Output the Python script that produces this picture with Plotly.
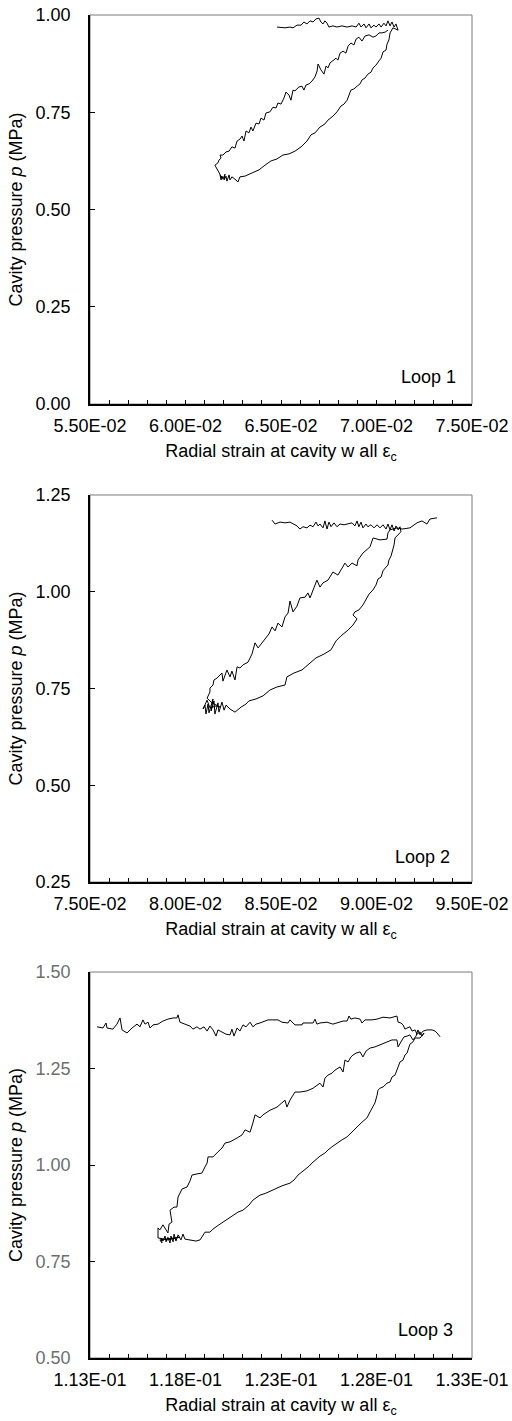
import plotly.graph_objects as go
import numpy as np

# ---------------- data (strain in units of 1E-02, pressure in MPa) ----------------
strain1 = [6.479, 6.521, 6.547, 6.563, 6.584, 6.605, 6.620, 6.636, 6.652, 6.668, 6.683, 6.699, 6.709, 6.720, 6.730,
           6.741, 6.751, 6.772, 6.793, 6.819, 6.846, 6.872, 6.893, 6.908, 6.919, 6.935, 6.945, 6.961, 6.971, 6.987,
           6.997, 7.013, 7.024, 7.039, 7.050, 7.060, 7.071, 7.081, 7.092, 7.102, 7.113, 7.086,
           7.071, 7.065, 7.055, 7.050, 7.034, 7.024, 7.013, 6.997, 6.982, 6.971, 6.955, 6.940, 6.924, 6.914, 6.898,
           6.882, 6.866, 6.856, 6.846, 6.830, 6.814, 6.793, 6.772, 6.746, 6.730, 6.704, 6.678, 6.657, 6.636, 6.605,
           6.573, 6.542, 6.510, 6.479, 6.448, 6.416, 6.385, 6.348, 6.312, 6.285, 6.275, 6.259,
           6.243, 6.233, 6.228, 6.217, 6.212, 6.202, 6.207, 6.196, 6.191, 6.186, 6.181, 6.191, 6.175,
           6.160, 6.154, 6.170, 6.175, 6.186, 6.181, 6.196,
           6.212, 6.228, 6.243, 6.259, 6.270, 6.285, 6.296, 6.306, 6.317, 6.332, 6.343, 6.353, 6.369, 6.385, 6.395,
           6.411, 6.421, 6.442, 6.458, 6.474, 6.484, 6.500, 6.516, 6.526, 6.542, 6.552, 6.563, 6.573, 6.594, 6.610,
           6.620, 6.631, 6.647, 6.662, 6.678, 6.689, 6.694, 6.709, 6.725, 6.736, 6.746, 6.757, 6.772, 6.788, 6.798,
           6.809, 6.825, 6.840, 6.851, 6.866, 6.882, 6.893, 6.908, 6.924, 6.940, 6.961, 6.982, 6.997, 7.013, 7.029,
           7.045, 7.060]
pressure1 = [0.969, 0.967, 0.969, 0.967, 0.974, 0.974, 0.982, 0.977, 0.985, 0.982, 0.990, 0.992, 0.982, 0.977, 0.985,
             0.979, 0.969, 0.972, 0.969, 0.972, 0.969, 0.972, 0.969, 0.979, 0.969, 0.977, 0.967, 0.977, 0.967, 0.974,
             0.969, 0.977, 0.969, 0.979, 0.972, 0.985, 0.972, 0.982, 0.969, 0.977, 0.961, 0.967,
             0.954, 0.936, 0.925, 0.910, 0.905, 0.889, 0.882, 0.871, 0.864, 0.853, 0.848, 0.838, 0.833, 0.823, 0.817,
             0.810, 0.807, 0.794, 0.781, 0.771, 0.766, 0.751, 0.740, 0.730, 0.720, 0.712, 0.697, 0.692, 0.676, 0.661,
             0.650, 0.643, 0.640, 0.630, 0.625, 0.614, 0.602, 0.594, 0.586, 0.584, 0.571, 0.578,
             0.584, 0.576, 0.589, 0.573, 0.586, 0.576, 0.591, 0.578, 0.586, 0.576, 0.589, 0.581, 0.596,
             0.609, 0.614, 0.620, 0.627, 0.632, 0.640, 0.640,
             0.648, 0.650, 0.661, 0.658, 0.676, 0.681, 0.689, 0.676, 0.702, 0.697, 0.712, 0.702, 0.722, 0.720, 0.735,
             0.730, 0.748, 0.751, 0.763, 0.761, 0.774, 0.771, 0.787, 0.802, 0.794, 0.781, 0.807, 0.805, 0.815, 0.817,
             0.807, 0.820, 0.823, 0.830, 0.841, 0.856, 0.874, 0.859, 0.848, 0.869, 0.864, 0.877, 0.882, 0.889, 0.884,
             0.902, 0.907, 0.902, 0.920, 0.928, 0.923, 0.938, 0.943, 0.933, 0.946, 0.949, 0.943, 0.946, 0.954, 0.954,
             0.956, 0.961]

strain2 = [8.453, 8.469, 8.495, 8.521, 8.547, 8.568, 8.584, 8.599, 8.615, 8.636, 8.652, 8.668, 8.683, 8.694, 8.704,
           8.720, 8.730, 8.741, 8.751, 8.762, 8.777, 8.793, 8.809, 8.830, 8.851, 8.872, 8.887, 8.898, 8.908, 8.919,
           8.929, 8.945, 8.955, 8.971, 8.987, 9.003, 9.018, 9.034, 9.050, 9.060, 9.071, 9.081, 9.092, 9.102, 9.113,
           9.123, 9.128,
           9.113, 9.097, 9.092, 9.086, 9.076, 9.065, 9.060, 9.045, 9.034, 9.024, 9.008, 8.997, 8.982, 8.961, 8.945,
           8.929, 8.908, 8.887, 8.877, 8.898, 8.877, 8.851, 8.814, 8.788, 8.762, 8.725, 8.683, 8.647, 8.610, 8.568,
           8.531, 8.521, 8.479, 8.442, 8.406, 8.369, 8.332, 8.317, 8.291, 8.259, 8.233, 8.212,
           8.202, 8.191, 8.175, 8.170, 8.154, 8.149, 8.134, 8.144, 8.123, 8.118, 8.107, 8.102, 8.092, 8.113, 8.128,
           8.160, 8.181, 8.139, 8.113,
           8.128, 8.128, 8.144, 8.149,
           8.165, 8.191, 8.196, 8.217, 8.233, 8.243, 8.259, 8.270, 8.285, 8.301, 8.327, 8.348, 8.364, 8.380, 8.401,
           8.416, 8.437, 8.453, 8.469, 8.484, 8.505, 8.521, 8.537, 8.547, 8.563, 8.584, 8.599, 8.626, 8.641, 8.652,
           8.668, 8.688, 8.704, 8.720, 8.746, 8.772, 8.798, 8.819, 8.835, 8.851, 8.872, 8.898, 8.903, 8.929, 8.950,
           8.966, 8.982, 9.018, 9.055, 9.060, 9.071, 9.107, 9.134, 9.175, 9.212, 9.238, 9.264, 9.280, 9.317]
pressure2 = [1.185, 1.175, 1.180, 1.178, 1.180, 1.175, 1.170, 1.162, 1.168, 1.165, 1.172, 1.168, 1.180, 1.170, 1.175,
             1.165, 1.183, 1.162, 1.180, 1.168, 1.178, 1.168, 1.175, 1.173, 1.175, 1.178, 1.170, 1.183, 1.168, 1.180,
             1.165, 1.175, 1.168, 1.173, 1.165, 1.173, 1.165, 1.173, 1.162, 1.175, 1.160, 1.173, 1.157, 1.170, 1.160,
             1.168, 1.155,
             1.147, 1.139, 1.121, 1.108, 1.092, 1.082, 1.069, 1.061, 1.054, 1.038, 1.033, 1.017, 1.005, 0.994, 0.981,
             0.966, 0.953, 0.948, 0.940, 0.930, 0.914, 0.901, 0.886, 0.873, 0.850, 0.839, 0.829, 0.813, 0.798, 0.790,
             0.780, 0.759, 0.754, 0.746, 0.731, 0.723, 0.718, 0.710, 0.702, 0.689, 0.697, 0.707,
             0.694, 0.715, 0.689, 0.713, 0.684, 0.718, 0.692, 0.723, 0.687, 0.710, 0.684, 0.707, 0.697, 0.720, 0.700,
             0.705, 0.702, 0.713, 0.725,
             0.741, 0.751, 0.759, 0.772,
             0.777, 0.790, 0.769, 0.798, 0.780, 0.795, 0.772, 0.806, 0.803, 0.811, 0.818, 0.839, 0.868, 0.855, 0.868,
             0.875, 0.891, 0.909, 0.899, 0.919, 0.909, 0.935, 0.945, 0.976, 0.948, 0.963, 0.984, 0.986, 0.997, 0.984,
             1.005, 1.030, 1.012, 1.023, 1.030, 1.051, 1.043, 1.061, 1.074, 1.064, 1.074, 1.067, 1.082, 1.100, 1.108,
             1.116, 1.139, 1.134, 1.136, 1.152, 1.160, 1.165, 1.162, 1.165, 1.178, 1.183, 1.175, 1.188, 1.191]

strain3 = [11.337, 11.368, 11.384, 11.389, 11.420, 11.441, 11.457, 11.468, 11.494, 11.520, 11.546, 11.562, 11.577,
           11.588, 11.604, 11.614, 11.630, 11.656, 11.682, 11.708, 11.735, 11.755, 11.761, 11.771, 11.797, 11.824,
           11.839, 11.860, 11.876, 11.897, 11.913, 11.928, 11.944, 11.960, 11.970, 11.991, 12.012, 12.033, 12.043,
           12.054, 12.070, 12.085, 12.101, 12.117, 12.138, 12.153, 12.169, 12.190, 12.211, 12.232, 12.258, 12.284,
           12.305, 12.337, 12.347, 12.373, 12.410, 12.415, 12.441, 12.468, 12.478, 12.488, 12.504, 12.541, 12.572,
           12.598, 12.625, 12.646, 12.656, 12.666, 12.687, 12.714, 12.724, 12.740, 12.776, 12.803, 12.834, 12.871,
           12.892, 12.907, 12.913, 12.928, 12.939, 12.949, 12.960, 12.975, 12.986, 13.002, 13.012, 13.028, 13.038,
           13.049,
           13.028, 13.002, 12.991, 12.975, 12.965, 12.960, 12.949, 12.939, 12.923, 12.913, 12.907, 12.897, 12.881,
           12.871, 12.855, 12.834, 12.818, 12.808, 12.803, 12.792, 12.771, 12.750, 12.724, 12.698, 12.672, 12.646,
           12.619, 12.593, 12.572, 12.546, 12.530, 12.504, 12.478, 12.462, 12.447, 12.420, 12.389, 12.368, 12.347,
           12.305, 12.258, 12.221, 12.190, 12.169, 12.153, 12.132, 12.101, 12.075, 12.049, 12.017, 11.991, 11.975,
           11.944, 11.928, 11.902, 11.886, 11.876, 11.855, 11.824, 11.797,
           11.787, 11.776, 11.761, 11.750, 11.740, 11.735, 11.724, 11.719, 11.708, 11.698, 11.693, 11.682, 11.672,
           11.677, 11.666, 11.745, 11.771, 11.708,
           11.656, 11.656, 11.666, 11.682, 11.693, 11.708, 11.714, 11.729, 11.719, 11.740, 11.755, 11.761, 11.782,
           11.808, 11.824, 11.834, 11.860, 11.886, 11.902, 11.913, 11.918, 11.944, 11.970, 11.991, 12.007, 12.033,
           12.070, 12.096, 12.112, 12.138, 12.153, 12.164, 12.190, 12.206, 12.227, 12.243, 12.279, 12.305, 12.321,
           12.331, 12.347, 12.363, 12.373, 12.399, 12.436, 12.468, 12.494, 12.504, 12.520, 12.530, 12.546, 12.567,
           12.583, 12.609, 12.625, 12.635, 12.651, 12.666, 12.677, 12.693, 12.714, 12.729, 12.745, 12.766, 12.792,
           12.818, 12.855, 12.881, 12.907, 12.913, 12.934, 12.944, 12.960, 12.975, 12.991, 13.007, 13.017, 13.028,
           13.044, 13.065, 13.091, 13.107, 13.117, 13.133]
pressure3 = [1.358, 1.355, 1.368, 1.355, 1.352, 1.365, 1.381, 1.350, 1.342, 1.355, 1.365, 1.358, 1.376,
             1.365, 1.370, 1.355, 1.363, 1.365, 1.373, 1.378, 1.381, 1.381, 1.389, 1.370, 1.365, 1.360,
             1.352, 1.358, 1.352, 1.358, 1.347, 1.360, 1.350, 1.334, 1.350, 1.345, 1.339, 1.337, 1.352,
             1.334, 1.355, 1.347, 1.363, 1.358, 1.370, 1.358, 1.365, 1.368, 1.373, 1.376, 1.376, 1.376,
             1.370, 1.368, 1.376, 1.363, 1.363, 1.368, 1.368, 1.368, 1.378, 1.365, 1.368, 1.370, 1.365,
             1.368, 1.373, 1.373, 1.386, 1.378, 1.381, 1.378, 1.368, 1.376, 1.376, 1.378, 1.383, 1.381,
             1.383, 1.386, 1.370, 1.368, 1.363, 1.352, 1.355, 1.358, 1.347, 1.350, 1.339, 1.345, 1.334,
             1.342,
             1.329, 1.329, 1.319, 1.313, 1.298, 1.290, 1.285, 1.272, 1.267, 1.254, 1.241, 1.233, 1.228,
             1.215, 1.212, 1.202, 1.199, 1.194, 1.181, 1.161, 1.142, 1.122, 1.111, 1.098, 1.085, 1.073,
             1.065, 1.057, 1.049, 1.039, 1.031, 1.023, 1.013, 1.005, 0.997, 0.987, 0.974, 0.961, 0.953,
             0.946, 0.935, 0.927, 0.922, 0.915, 0.909, 0.896, 0.883, 0.878, 0.870, 0.860, 0.852, 0.845,
             0.834, 0.826, 0.826, 0.813, 0.806, 0.803, 0.806, 0.808,
             0.821, 0.806, 0.819, 0.803, 0.821, 0.801, 0.816, 0.798, 0.813, 0.801, 0.816, 0.803, 0.811,
             0.798, 0.806, 0.811, 0.813, 0.806,
             0.811, 0.837, 0.832, 0.845, 0.837, 0.824, 0.847, 0.852, 0.883, 0.891, 0.891, 0.917, 0.938,
             0.943, 0.959, 0.974, 0.977, 0.979, 0.995, 1.005, 1.021, 1.021, 1.034, 1.044, 1.057, 1.060,
             1.070, 1.078, 1.091, 1.085, 1.109, 1.130, 1.122, 1.130, 1.137, 1.142, 1.150, 1.161, 1.168,
             1.150, 1.168, 1.181, 1.189, 1.189, 1.192, 1.199, 1.210, 1.212, 1.202, 1.225, 1.233, 1.238,
             1.246, 1.254, 1.241, 1.272, 1.267, 1.280, 1.285, 1.290, 1.293, 1.280, 1.295, 1.303, 1.306,
             1.311, 1.319, 1.324, 1.324, 1.306, 1.324, 1.332, 1.334, 1.337, 1.324, 1.334, 1.350, 1.337,
             1.347, 1.350, 1.350, 1.347, 1.342, 1.332]

loops = [
    dict(x=strain1, y=pressure1, label="Loop 1", xticks=[0.055, 0.060, 0.065, 0.070, 0.075],
         xtext=["5.50E-02", "6.00E-02", "6.50E-02", "7.00E-02", "7.50E-02"],
         yticks=[0.00, 0.25, 0.50, 0.75, 1.00], ycolor="#000000"),
    dict(x=strain2, y=pressure2, label="Loop 2", xticks=[0.075, 0.080, 0.085, 0.090, 0.095],
         xtext=["7.50E-02", "8.00E-02", "8.50E-02", "9.00E-02", "9.50E-02"],
         yticks=[0.25, 0.50, 0.75, 1.00, 1.25], ycolor="#000000"),
    dict(x=strain3, y=pressure3, label="Loop 3", xticks=[0.113, 0.118, 0.123, 0.128, 0.133],
         xtext=["1.13E-01", "1.18E-01", "1.23E-01", "1.28E-01", "1.33E-01"],
         yticks=[0.50, 0.75, 1.00, 1.25, 1.50], ycolor="#6e6e6e"),
]

# ---------------- layout ----------------
W, H = 512, 1421
ML, MR, MT, MB = 90, 40, 15, 63
domains = [(0.7103, 1.0), (0.3544, 0.6426), (0.0, 0.2874)]
label_pos = [(0.963, 0.069), (0.948, 0.065), (0.955, 0.073)]

FONT = "Liberation Sans, Arial, sans-serif"
fig = go.Figure()
layout = dict(width=W, height=H, margin=dict(l=ML, r=MR, t=MT, b=MB, autoexpand=False),
              paper_bgcolor="white", plot_bgcolor="white", showlegend=False,
              font=dict(family=FONT, size=18, color="black"))
shapes, annotations = [], []

for i, lp in enumerate(loops):
    n = "" if i == 0 else str(i + 1)
    xs = np.array(lp["x"]) * 1e-2
    fig.add_trace(go.Scatter(x=xs, y=lp["y"], mode="lines", line=dict(color="black", width=1),
                             xaxis="x" + n, yaxis="y" + n, hoverinfo="skip"))
    layout["xaxis" + n] = dict(
        domain=[0, 1], anchor="y" + n, range=[lp["xticks"][0], lp["xticks"][-1]],
        tickmode="array", tickvals=lp["xticks"], ticktext=lp["xtext"],
        ticks="inside", ticklen=4, tickwidth=1, tickcolor="black",
        minor=dict(tickmode="linear", tick0=lp["xticks"][0], dtick=0.001, ticks="inside",
                   ticklen=4, tickwidth=1, tickcolor="black", showgrid=False),
        showline=True, linecolor="black", linewidth=1.5, showgrid=False, zeroline=False,
        tickfont=dict(size=18, color="black"), ticklabelstandoff=5, automargin=False,
        ticklabeloverflow="allow",
        title=dict(text="Radial strain at cavity w all ε<sub>c</sub>", font=dict(size=18), standoff=9),
    )
    layout["yaxis" + n] = dict(
        domain=list(domains[i]), anchor="x" + n, range=[lp["yticks"][0], lp["yticks"][-1]],
        tickmode="array", tickvals=lp["yticks"], ticktext=[f"{v:.2f}" for v in lp["yticks"]],
        ticks="inside", ticklen=5, tickwidth=1, tickcolor="black",
        showline=True, linecolor="black", linewidth=1.5, showgrid=False, zeroline=False,
        tickfont=dict(size=18, color=lp["ycolor"]), ticklabelstandoff=14, automargin=False,
        ticklabeloverflow="allow",
        title=dict(text="Cavity pressure <i>p</i> (MPa)", font=dict(size=18), standoff=8),
    )
    xr = "x" + n + " domain"
    yr = "y" + n + " domain"
    shapes.append(dict(type="rect", xref=xr, yref=yr, x0=0, x1=1, y0=0, y1=1,
                       line=dict(color="#7a7a7a", width=1), layer="below"))
    annotations.append(dict(text=lp["label"], xref=xr, yref=yr, x=label_pos[i][0], y=label_pos[i][1],
                            xanchor="right", yanchor="middle", showarrow=False,
                            font=dict(size=18, color="black")))

layout["shapes"] = shapes
layout["annotations"] = annotations
fig.update_layout(**layout)
# remove the default 8 px page margin so the figure fills the window exactly
fig.write_html("out.html", config={"displayModeBar": False},
               post_script="document.body.style.margin='0px';")
